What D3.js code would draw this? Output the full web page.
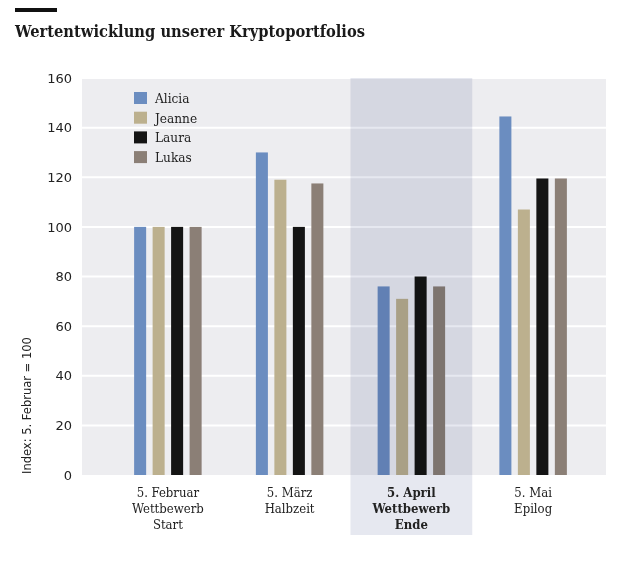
<html>
<head>
<meta charset="utf-8">
<script src="https://d3js.org/d3.v7.min.js"></script>
<style>
  body { margin: 0; background: #fff; }
  .serif { font-family: "DejaVu Serif Condensed", "DejaVu Serif", serif; font-stretch: semi-condensed; }
  .sans { font-family: "DejaVu Sans", sans-serif; }
</style>
</head>
<body>
<script>
// data
var dates = ["5. Februar", "5. März", "5. April", "5. Mai"];
var subLines = [["Wettbewerb", "Start"], ["Halbzeit"], ["Wettbewerb", "Ende"], ["Epilog"]];
var names = ["Alicia", "Jeanne", "Laura", "Lukas"];
var colors = ["#6b8dc0", "#bcb08e", "#141414", "#8b7f76"];
var alicia = [100, 130, 76, 144.5];
var jeanne = [100, 119, 71, 107];
var laura  = [100, 100, 80, 119.5];
var lukas  = [100, 117.5, 76, 119.5];
var yTicks = [0, 20, 40, 60, 80, 100, 120, 140, 160];
var highlight = "5. April";

var series = [alicia, jeanne, laura, lukas];
var width = 620, height = 571;
var plot = {left: 82, right: 606, top: 78, bottom: 475};

var svg = d3.select("body").append("svg")
    .attr("width", width)
    .attr("height", height);

// title
svg.append("rect").attr("x", 15).attr("y", 8).attr("width", 42).attr("height", 4).attr("fill", "#111");
var title = svg.append("text")
    .attr("class", "serif")
    .attr("x", 15).attr("y", 37)
    .attr("font-size", 17.5).attr("font-weight", "bold").attr("fill", "#1a1a1a")
    .text("Wertentwicklung unserer Kryptoportfolios");
var tw = title.node().getComputedTextLength();
if (tw > 350) title.attr("textLength", 350).attr("lengthAdjust", "spacingAndGlyphs");

var y = d3.scaleLinear().domain([0, 160]).range([plot.bottom, plot.top]);
var x = d3.scaleBand().domain(dates).range([107, 594]);
var x1 = d3.scaleBand().domain(names)
    .range([x.bandwidth() / 2 - 33.75, x.bandwidth() / 2 + 33.75])
    .paddingInner(0.35);

// background
svg.append("rect")
    .attr("x", plot.left).attr("y", plot.top)
    .attr("width", plot.right - plot.left).attr("height", plot.bottom - plot.top)
    .attr("fill", "#ededf0");

// grid
svg.append("g").selectAll("line")
    .data(yTicks.slice(1)).enter()
    .append("line")
    .attr("x1", plot.left).attr("x2", plot.right)
    .attr("y1", d => y(d)).attr("y2", d => y(d))
    .attr("stroke", "#fff").attr("stroke-width", 2);

// y axis
var yAxis = svg.append("g")
    .attr("transform", "translate(" + (plot.left - 10) + ",0)")
    .call(d3.axisLeft(y).tickValues(yTicks).tickSize(0).tickPadding(0));
yAxis.select(".domain").remove();
yAxis.selectAll("text")
    .attr("font-size", 13).attr("fill", "#222")
    .attr("font-family", "DejaVu Sans, sans-serif");

svg.append("text")
    .attr("class", "sans")
    .attr("transform", "translate(31," + (plot.bottom - 1) + ") rotate(-90)")
    .attr("text-anchor", "start")
    .attr("font-size", 11.5).attr("fill", "#222")
    .text("Index: 5. Februar = 100");

// bars
var groups = svg.append("g").selectAll("g")
    .data(dates).enter()
    .append("g")
    .attr("transform", d => "translate(" + x(d) + ",0)");

groups.selectAll("rect")
    .data((d, i) => names.map((n, j) => ({name: n, value: series[j][i], color: colors[j]})))
    .enter().append("rect")
    .attr("x", d => x1(d.name))
    .attr("width", x1.bandwidth())
    .attr("y", d => y(d.value))
    .attr("height", d => y(0) - y(d.value))
    .attr("fill", d => d.color);

// highlight band
svg.append("rect")
    .attr("x", x(highlight)).attr("y", plot.top)
    .attr("width", x.bandwidth()).attr("height", 535 - plot.top)
    .attr("fill", "rgb(230,232,240)")
    .style("mix-blend-mode", "multiply");

// x labels
var xl = svg.append("g").selectAll("text")
    .data(dates).enter()
    .append("text")
    .attr("class", "serif")
    .attr("text-anchor", "middle")
    .attr("font-size", 13)
    .attr("fill", "#222")
    .attr("font-weight", d => d === highlight ? "bold" : "normal")
    .attr("x", d => x(d) + x.bandwidth() / 2)
    .attr("y", 497);
xl.append("tspan").text(d => d);
xl.each(function(d, i) {
    var t = d3.select(this);
    subLines[i].forEach(function(s) {
        t.append("tspan").attr("x", x(d) + x.bandwidth() / 2).attr("dy", 16).text(s);
    });
});

// legend
var leg = svg.append("g").attr("transform", "translate(134,92)");
var li = leg.selectAll("g").data(names).enter().append("g")
    .attr("transform", (d, i) => "translate(0," + i * 19.7 + ")");
li.append("rect").attr("width", 13).attr("height", 12).attr("fill", (d, i) => colors[i]);
li.append("text")
    .attr("class", "serif")
    .attr("x", 21).attr("y", 11)
    .attr("font-size", 13.5).attr("fill", "#222")
    .text(d => d);
</script>
</body>
</html>
